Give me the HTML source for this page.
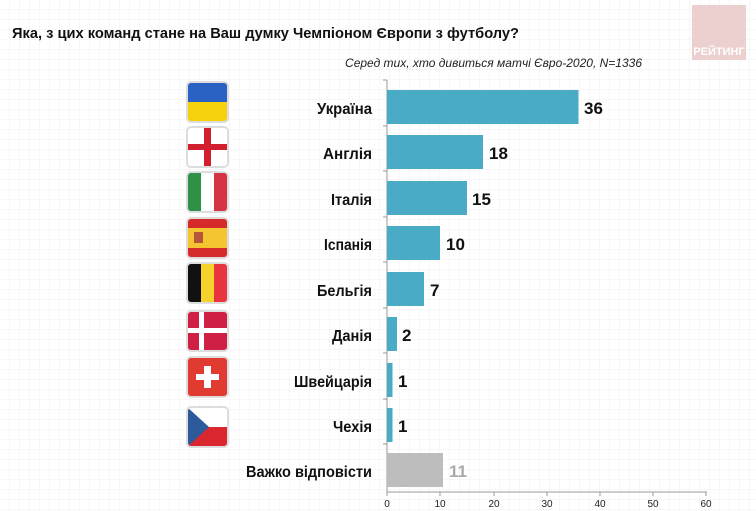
<!DOCTYPE html>
<html><head><meta charset="utf-8"><style>
html,body{margin:0;padding:0;background:#fff}
svg{display:block}
text{font-family:"Liberation Sans",Arial,sans-serif}
</style></head><body>
<svg width="756" height="511" viewBox="0 0 756 511" xmlns="http://www.w3.org/2000/svg">
<defs>
<pattern id="g" width="10" height="10" patternUnits="userSpaceOnUse">
<path d="M10 0V10H0" fill="none" stroke="#efefef" stroke-width="1"/>
</pattern>
<clipPath id="fc"><rect x="0" y="0" width="41" height="40" rx="4"/></clipPath>
</defs>
<rect width="756" height="511" fill="#fff"/>
<rect width="756" height="511" fill="url(#g)"/>
<rect x="692" y="5" width="54" height="55" fill="#eccfcf"/>
<text x="719" y="55" font-size="11" font-weight="bold" fill="#fff" text-anchor="middle">РЕЙТИНГ</text>
<text x="12" y="38" font-size="15" font-weight="bold" fill="#111" textLength="507" lengthAdjust="spacingAndGlyphs">Яка, з цих команд стане на Ваш думку Чемпіоном Європи з футболу?</text>
<text x="642" y="67" font-size="12" font-style="italic" fill="#222" text-anchor="end">Серед тих, хто дивиться матчі Євро-2020, N=1336</text>

<line x1="387" y1="80" x2="387" y2="492" stroke="#999"/>
<line x1="387" y1="492" x2="707" y2="492" stroke="#999"/>
<g stroke="#999">
<line x1="383" y1="80" x2="387" y2="80"/><line x1="383" y1="126" x2="387" y2="126"/><line x1="383" y1="171" x2="387" y2="171"/><line x1="383" y1="217" x2="387" y2="217"/><line x1="383" y1="262" x2="387" y2="262"/><line x1="383" y1="308" x2="387" y2="308"/><line x1="383" y1="353" x2="387" y2="353"/><line x1="383" y1="399" x2="387" y2="399"/><line x1="383" y1="444" x2="387" y2="444"/>
<line x1="387" y1="492" x2="387" y2="496"/><line x1="440" y1="492" x2="440" y2="496"/><line x1="494" y1="492" x2="494" y2="496"/><line x1="547" y1="492" x2="547" y2="496"/><line x1="600" y1="492" x2="600" y2="496"/><line x1="653" y1="492" x2="653" y2="496"/><line x1="706" y1="492" x2="706" y2="496"/>
</g>
<g font-size="10" fill="#222" text-anchor="middle">
<text x="387" y="507">0</text><text x="440" y="507">10</text><text x="494" y="507">20</text><text x="547" y="507">30</text><text x="600" y="507">40</text><text x="653" y="507">50</text><text x="706" y="507">60</text>
</g>

<g fill="#4aabc6">
<rect x="387" y="90" width="191.5" height="34"/>
<rect x="387" y="135" width="96" height="34"/>
<rect x="387" y="181" width="80" height="34"/>
<rect x="387" y="226" width="53" height="34"/>
<rect x="387" y="272" width="37" height="34"/>
<rect x="387" y="317" width="10" height="34"/>
<rect x="387" y="363" width="5.5" height="34"/>
<rect x="387" y="408" width="5.5" height="34"/>
</g>
<rect x="387" y="453" width="56" height="34" fill="#bdbdbd"/>
<g font-size="17" font-weight="bold" fill="#111">
<text x="584" y="114">36</text><text x="489" y="159">18</text><text x="472" y="205">15</text><text x="446" y="250">10</text><text x="430" y="296">7</text><text x="402" y="341">2</text><text x="398" y="387">1</text><text x="398" y="432">1</text>
<text x="449" y="477" fill="#aaa">11</text>
</g>
<g font-size="16" font-weight="bold" fill="#111" text-anchor="end">
<text x="372" y="114" textLength="55" lengthAdjust="spacingAndGlyphs">Україна</text><text x="372" y="159" textLength="49" lengthAdjust="spacingAndGlyphs">Англія</text><text x="372" y="205" textLength="41" lengthAdjust="spacingAndGlyphs">Італія</text><text x="372" y="250" textLength="48" lengthAdjust="spacingAndGlyphs">Іспанія</text><text x="372" y="296" textLength="55" lengthAdjust="spacingAndGlyphs">Бельгія</text><text x="372" y="341" textLength="40" lengthAdjust="spacingAndGlyphs">Данія</text><text x="372" y="387" textLength="78" lengthAdjust="spacingAndGlyphs">Швейцарія</text><text x="372" y="432" textLength="39" lengthAdjust="spacingAndGlyphs">Чехія</text><text x="372" y="477" textLength="126" lengthAdjust="spacingAndGlyphs">Важко відповісти</text>
</g>

<g transform="translate(187,82)"><g clip-path="url(#fc)"><rect width="41" height="20" fill="#2a62c4"/><rect y="20" width="41" height="20" fill="#f7d10c"/></g><rect width="41" height="40" rx="4" fill="none" stroke="#ddd" stroke-width="2"/></g>
<g transform="translate(187,127)"><g clip-path="url(#fc)"><rect width="41" height="40" fill="#fff"/><rect x="17" width="7" height="40" fill="#d21f30"/><rect y="17" width="41" height="6" fill="#d21f30"/></g><rect width="41" height="40" rx="4" fill="none" stroke="#ddd" stroke-width="2"/></g>
<g transform="translate(187,172)"><g clip-path="url(#fc)"><rect width="14" height="40" fill="#2f9146"/><rect x="14" width="13" height="40" fill="#fff"/><rect x="27" width="14" height="40" fill="#d43444"/></g><rect width="41" height="40" rx="4" fill="none" stroke="#ddd" stroke-width="2"/></g>
<g transform="translate(187,218)"><g clip-path="url(#fc)"><rect width="41" height="40" fill="#d52a2a"/><rect y="10" width="41" height="20" fill="#f5c431"/><rect x="7" y="14" width="9" height="11" fill="#b6553a"/></g><rect width="41" height="40" rx="4" fill="none" stroke="#ddd" stroke-width="2"/></g>
<g transform="translate(187,263)"><g clip-path="url(#fc)"><rect width="14" height="40" fill="#111"/><rect x="14" width="13" height="40" fill="#f6d22d"/><rect x="27" width="14" height="40" fill="#ea3440"/></g><rect width="41" height="40" rx="4" fill="none" stroke="#ddd" stroke-width="2"/></g>
<g transform="translate(187,311)"><g clip-path="url(#fc)"><rect width="41" height="40" fill="#cf1f45"/><rect x="12" width="5" height="40" fill="#fff"/><rect y="17" width="41" height="5" fill="#fff"/></g><rect width="41" height="40" rx="4" fill="none" stroke="#ddd" stroke-width="2"/></g>
<g transform="translate(187,357)"><g clip-path="url(#fc)"><rect width="41" height="40" fill="#e13a31"/><rect x="17" y="9" width="7" height="22" fill="#fff"/><rect x="9" y="17" width="23" height="6" fill="#fff"/></g><rect width="41" height="40" rx="4" fill="none" stroke="#ddd" stroke-width="2"/></g>
<g transform="translate(187,407)"><g clip-path="url(#fc)"><rect width="41" height="20" fill="#fff"/><rect y="20" width="41" height="20" fill="#d9262f"/><polygon points="0,0 22,20 0,40" fill="#2d5a9b"/></g><rect width="41" height="40" rx="4" fill="none" stroke="#ddd" stroke-width="2"/></g>
</svg>
</body></html>
